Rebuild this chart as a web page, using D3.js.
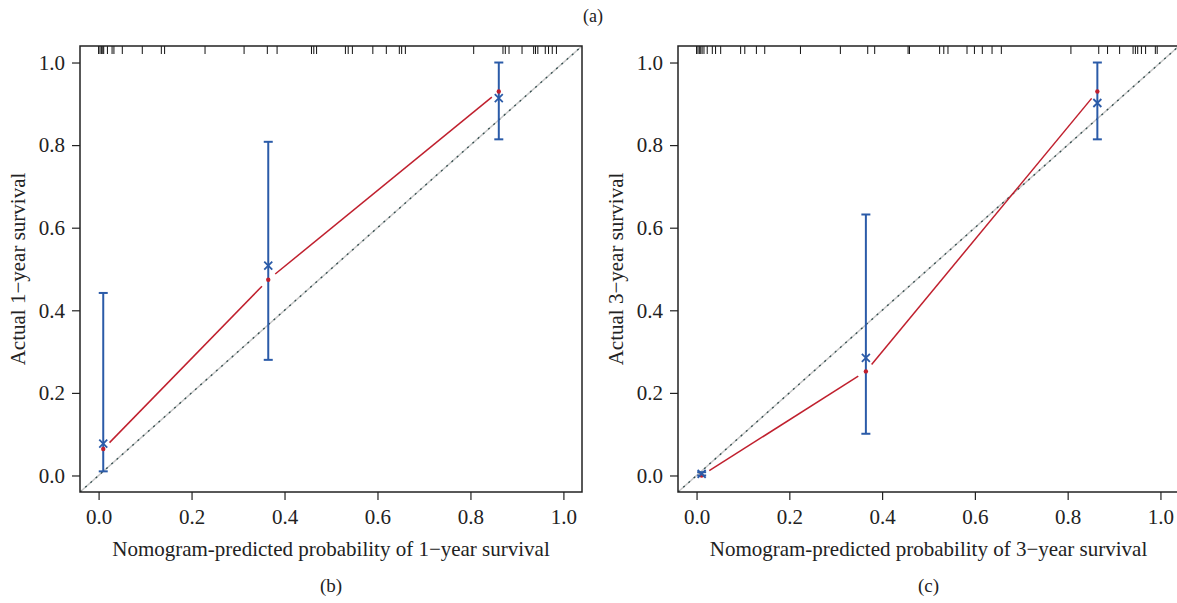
<!DOCTYPE html>
<html>
<head>
<meta charset="utf-8">
<script src="https://cdn.jsdelivr.net/npm/d3@7"></script>
<style>
  body { margin: 0; background: #fff; }
  svg { display: block; }
  text { font-family: "Liberation Serif", "DejaVu Serif", serif; fill: #222; }
</style>
</head>
<body>
<div id="chart"></div>
<script>
// rug of predicted probabilities (top of each panel)
const rug1 = [0.000, 0.003, 0.006, 0.009, 0.011, 0.019, 0.029, 0.033, 0.051, 0.094, 0.135, 0.142,
  0.229, 0.313, 0.363, 0.384, 0.458, 0.463, 0.469, 0.531, 0.537, 0.546, 0.590, 0.619, 0.647,
  0.652, 0.660, 0.807, 0.870, 0.875, 0.883, 0.911, 0.936, 0.940, 0.945, 0.961, 0.968, 0.976, 0.985];
const rug2 = [0.000, 0.003, 0.006, 0.009, 0.012, 0.016, 0.023, 0.034, 0.041, 0.052, 0.095, 0.104,
  0.129, 0.147, 0.224, 0.310, 0.369, 0.384, 0.456, 0.459, 0.524, 0.533, 0.542, 0.583, 0.599,
  0.616, 0.637, 0.657, 0.807, 0.867, 0.886, 0.912, 0.941, 0.946, 0.951, 0.959, 0.968, 0.989, 0.993];

// calibration groups
const pred1 = [0.010, 0.365, 0.861];
const obs1  = [0.064, 0.474, 0.930];
const corr1 = [0.077, 0.508, 0.914];
const lo1   = [0.010, 0.280, 0.814];
const hi1   = [0.442, 0.808, 1.000];

const pred2 = [0.011, 0.365, 0.864];
const obs2  = [0.000, 0.252, 0.930];
const corr2 = [0.004, 0.285, 0.902];
const lo2   = [0.000, 0.101, 0.814];
const hi2   = [0.008, 0.632, 1.000];

const ticks = [0, 0.2, 0.4, 0.6, 0.8, 1.0];

const W = 1177, H = 603;
const RED = '#c0202e', BLUE = '#2b5ba8';

const svg = d3.select('#chart').append('svg')
  .attr('width', W).attr('height', H);

svg.append('text').attr('x', 593).attr('y', 22)
  .attr('text-anchor', 'middle').style('font-size', '18px').text('(a)');

const panels = [
  { left: 80, right: 582, rug: rug1, pred: pred1, obs: obs1, corr: corr1, lo: lo1, hi: hi1,
    xlab: 'Nomogram-predicted probability of 1\u2212year survival',
    ylab: 'Actual 1\u2212year survival', tag: '(b)' },
  { left: 678, right: 1179, rug: rug2, pred: pred2, obs: obs2, corr: corr2, lo: lo2, hi: hi2,
    xlab: 'Nomogram-predicted probability of 3\u2212year survival',
    ylab: 'Actual 3\u2212year survival', tag: '(c)' }
];

const plotTop = 46, plotBottom = 492;

panels.forEach((p, k) => {
  const x = d3.scaleLinear().domain([-0.04, 1.04]).range([p.left, p.right]);
  const y = d3.scaleLinear().domain([-0.04, 1.04]).range([plotBottom, plotTop]);
  const g = svg.append('g');

  const clipId = 'clip' + k;
  svg.append('clipPath').attr('id', clipId).append('rect')
    .attr('x', p.left).attr('y', plotTop)
    .attr('width', p.right - p.left).attr('height', plotBottom - plotTop);

  // reference diagonal
  const diag = g.append('g').attr('clip-path', `url(#${clipId})`);
  diag.append('line')
    .attr('x1', x(-0.04)).attr('y1', y(-0.04)).attr('x2', x(1.04)).attr('y2', y(1.04))
    .attr('stroke', '#c8c8c8').attr('stroke-width', 1.5);
  diag.append('line')
    .attr('x1', x(-0.04)).attr('y1', y(-0.04)).attr('x2', x(1.04)).attr('y2', y(1.04))
    .attr('stroke', '#2f4a4a').attr('stroke-width', 1.3).attr('stroke-dasharray', '2,5');

  // rug
  g.selectAll('.rug').data(p.rug).join('line')
    .attr('x1', d => x(d)).attr('x2', d => x(d))
    .attr('y1', plotTop).attr('y2', plotTop + 8)
    .attr('stroke', '#111').attr('stroke-width', 1);

  // red observed line, broken around the points
  const gap = 9;
  for (let i = 0; i < p.pred.length - 1; i++) {
    const x0 = x(p.pred[i]), y0 = y(p.obs[i]);
    const x1 = x(p.pred[i + 1]), y1 = y(p.obs[i + 1]);
    const len = Math.hypot(x1 - x0, y1 - y0);
    const ux = (x1 - x0) / len, uy = (y1 - y0) / len;
    g.append('line')
      .attr('x1', x0 + ux * gap).attr('y1', y0 + uy * gap)
      .attr('x2', x1 - ux * gap).attr('y2', y1 - uy * gap)
      .attr('stroke', RED).attr('stroke-width', 1.5);
  }

  // error bars
  const cap = 4.5;
  p.pred.forEach((d, i) => {
    const xx = x(d);
    g.append('line').attr('x1', xx).attr('x2', xx)
      .attr('y1', y(p.lo[i])).attr('y2', y(p.hi[i]))
      .attr('stroke', BLUE).attr('stroke-width', 2);
    [p.lo[i], p.hi[i]].forEach(v => {
      g.append('line').attr('x1', xx - cap).attr('x2', xx + cap)
        .attr('y1', y(v)).attr('y2', y(v))
        .attr('stroke', BLUE).attr('stroke-width', 2);
    });
  });

  // red dots
  g.selectAll('.dot').data(p.pred).join('circle')
    .attr('cx', d => x(d)).attr('cy', (d, i) => y(p.obs[i]))
    .attr('r', 2.2).attr('fill', RED);

  // blue crosses
  const s = 4;
  p.pred.forEach((d, i) => {
    const cx = x(d), cy = y(p.corr[i]);
    g.append('path')
      .attr('d', `M${cx - s},${cy - s}L${cx + s},${cy + s}M${cx - s},${cy + s}L${cx + s},${cy - s}`)
      .attr('stroke', BLUE).attr('stroke-width', 1.8).attr('fill', 'none');
  });

  // axes
  const xAxis = d3.axisBottom(x).tickValues(ticks).tickFormat(d3.format('.1f'))
    .tickSize(8).tickPadding(9);
  const gx = g.append('g').attr('transform', `translate(0,${plotBottom})`).call(xAxis);
  const yAxis = d3.axisLeft(y).tickValues(ticks).tickFormat(d3.format('.1f'))
    .tickSize(8).tickPadding(7);
  const gy = g.append('g').attr('transform', `translate(${p.left},0)`).call(yAxis);
  [gx, gy].forEach(a => {
    a.select('.domain').remove();
    a.selectAll('.tick line').attr('stroke', '#222').attr('stroke-width', 1.2);
    a.selectAll('.tick text').style('font-size', '21px')
      .style('font-family', '"Liberation Serif", serif').attr('fill', '#222');
  });

  // box
  g.append('rect')
    .attr('x', p.left).attr('y', plotTop)
    .attr('width', p.right - p.left).attr('height', plotBottom - plotTop)
    .attr('fill', 'none').attr('stroke', '#222').attr('stroke-width', 1.5);

  // titles
  const cx = (x(0) + x(1)) / 2;
  g.append('text').attr('x', cx).attr('y', 556)
    .attr('text-anchor', 'middle').style('font-size', '21px').text(p.xlab);
  g.append('text')
    .attr('transform', `translate(${p.left - 55},${(plotTop + plotBottom) / 2}) rotate(-90)`)
    .attr('text-anchor', 'middle').style('font-size', '21px').text(p.ylab);
  g.append('text').attr('x', cx).attr('y', 592)
    .attr('text-anchor', 'middle').style('font-size', '19px').text(p.tag);
});
</script>
</body>
</html>
